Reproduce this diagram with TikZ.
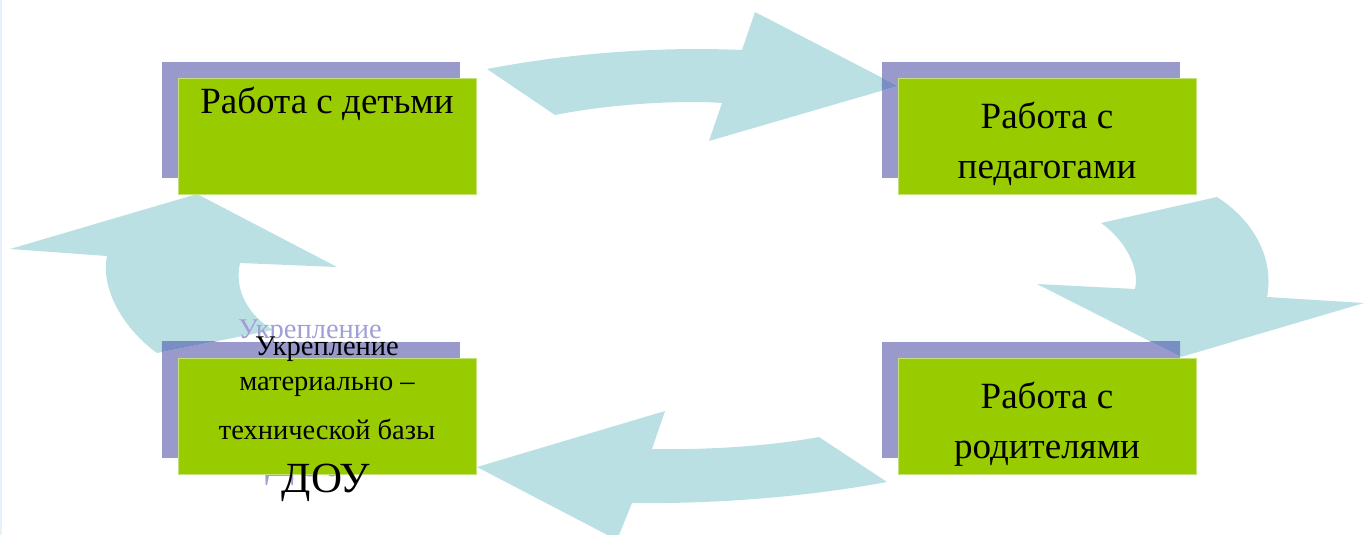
\documentclass[tikz,border=0pt]{standalone}
\usepackage{fontspec}
\setmainfont{Liberation Serif}
\definecolor{shadowc}{HTML}{9999CC}
\definecolor{greenc}{HTML}{99CC00}
\definecolor{greenedge}{HTML}{C4E27A}
\definecolor{arrowc}{HTML}{BBE0E3}
\definecolor{overlapc}{HTML}{7B8EC4}
\definecolor{ghostc}{HTML}{A0A0D6}
\definecolor{edgec}{HTML}{E6F2FA}
\begin{document}
\begin{tikzpicture}[x=1pt,y=-1pt,
  shadowbox/.style={rectangle, minimum width=298pt, minimum height=116pt, inner sep=0pt, fill=shadowc},
  greenbox/.style={rectangle, minimum width=298pt, minimum height=116pt, inner sep=0pt, fill=greenc, draw=greenedge, line width=0.6pt},
  arrowfill/.style={fill=arrowc},
  overlapfill/.style={fill=overlapc},
  lab/.style={inner sep=0pt, anchor=base, font=\fontsize{37}{44}\selectfont},
  smalllab/.style={inner sep=0pt, anchor=base, font=\fontsize{28.5}{34}\selectfont},
  biglab/.style={inner sep=0pt, anchor=base, font=\fontsize{43}{50}\selectfont},
  ghost/.style={text=ghostc}]
\useasboundingbox (0,0) rectangle (1367,535);
\fill[edgec] (0,0) rectangle (1.5,535);

% shadow boxes
\node[shadowbox] (s1) at (311,120) {};
\node[shadowbox] (s2) at (1031,120) {};
\node[shadowbox] (s3) at (311,400) {};
\node[shadowbox] (s4) at (1031,400) {};

% arrows
\path[save path=\arrtop] (487,69) .. controls (560,55) and (650,46) .. (742,50) -- (755,12) -- (898,86) -- (709,141) -- (722,103) .. controls (680,100) and (610,104) .. (555,115) -- cycle;
\path[save path=\arrright] (1101,223) -- (1217,197) .. controls (1250,218) and (1275,255) .. (1267,297) -- (1364,303) -- (1181,357) -- (1037,284) -- (1135,289) .. controls (1140,268) and (1125,240) .. (1101,223) -- cycle;
\path[save path=\arrbottom] (477,467) -- (665,411) -- (652,449) .. controls (710,450) and (770,446) .. (819,437) -- (887,482) .. controls (800,498) and (710,504) .. (632,503) -- (617,540) -- cycle;
\path[save path=\arrleft] (197,194) -- (337,267) -- (240,263) .. controls (234,290) and (248,315) .. (273,330) -- (157,353) .. controls (125,330) and (100,290) .. (107,256) -- (10,249) -- cycle;

\fill[arrowfill, use path=\arrtop];
\fill[arrowfill, use path=\arrright];
\fill[arrowfill, use path=\arrbottom];
\fill[arrowfill, use path=\arrleft];

\begin{scope}
  \clip (s2.north west) rectangle (s2.south east);
  \fill[overlapfill, use path=\arrtop];
\end{scope}
\begin{scope}
  \clip (s4.north west) rectangle (s4.south east);
  \fill[overlapfill, use path=\arrright];
\end{scope}
\begin{scope}
  \clip (s3.north west) rectangle (s3.south east);
  \fill[overlapfill, use path=\arrleft];
\end{scope}

% ghost text of the shadow box
\node[smalllab, ghost] (h3a) at (310,338) {Укрепление};
\node[biglab, ghost] (h3d) at (310,476) {ДОУ};

% green boxes
\node[greenbox] (g1) at (327,136) {};
\node[greenbox] (g2) at (1047,136) {};
\node[greenbox] (g3) at (327,416) {};
\node[greenbox] (g4) at (1047,416) {};

% labels
\node[lab] (t1) at (327,113) {Работа с детьми};
\node[lab] (t2a) at (1047,128) {Работа с};
\node[lab] (t2b) at (1047,178) {педагогами};
\node[lab] (t4a) at (1047,408) {Работа с};
\node[lab] (t4b) at (1047,458) {родителями};
\node[smalllab] (t3a) at (327,355) {Укрепление};
\node[smalllab] (t3b) at (327,390) {материально –};
\node[smalllab] (t3c) at (327,439) {технической базы};
\node[biglab] (t3d) at (326,492) {ДОУ};
\end{tikzpicture}
\end{document}
